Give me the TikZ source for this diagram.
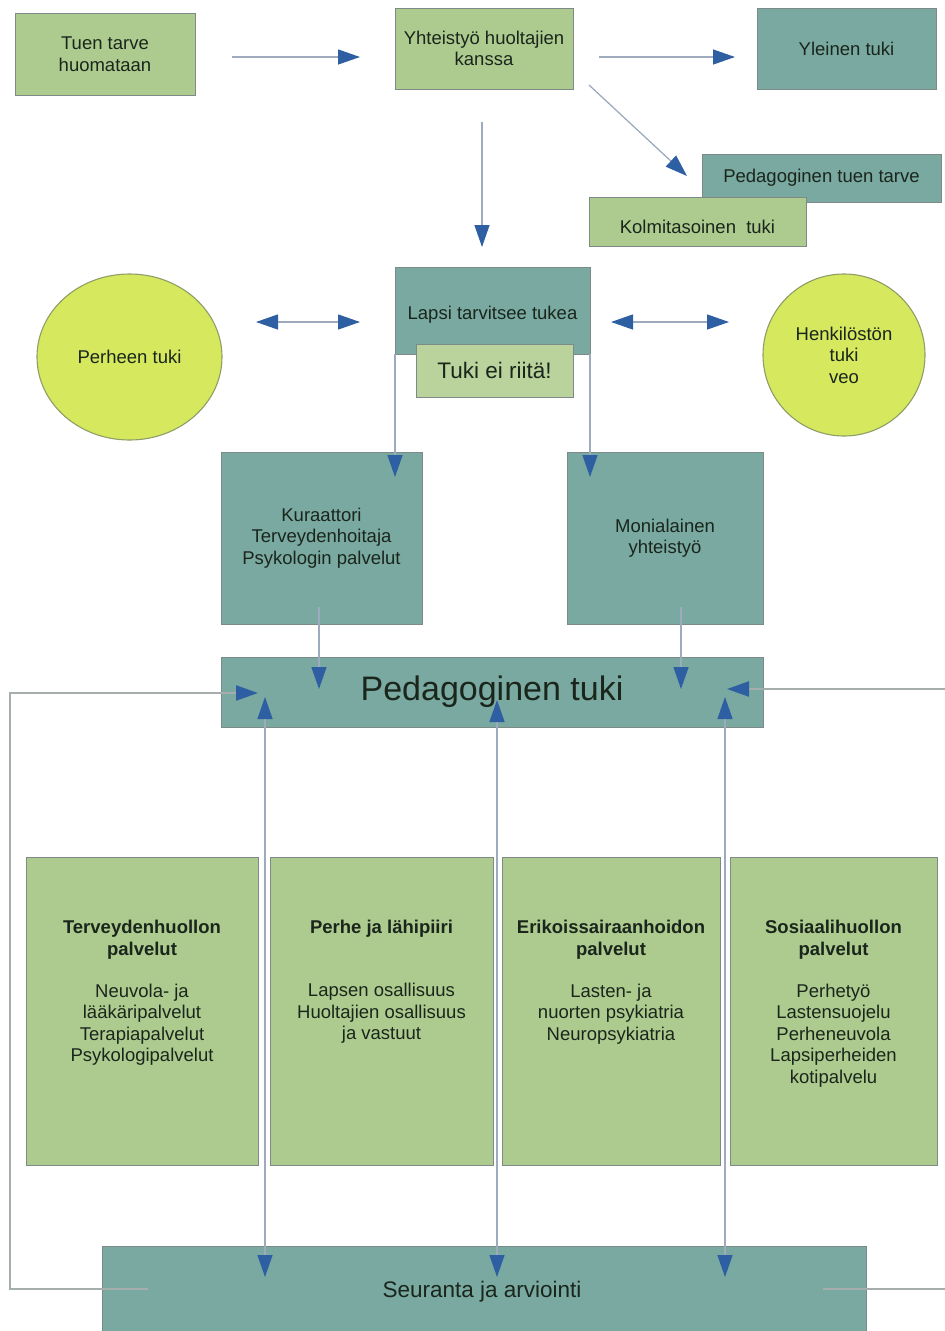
\documentclass[tikz,border=0pt]{standalone}
\usepackage{fontspec}
\setmainfont{Liberation Sans}
\usetikzlibrary{arrows.meta,shapes.geometric}
\definecolor{tealbox}{HTML}{79A9A0}
\definecolor{greenbox}{HTML}{AECB8F}
\definecolor{lightgreen}{HTML}{BAD39C}
\definecolor{yellowell}{HTML}{D5E85E}
\definecolor{ellborder}{HTML}{8E9E66}
\definecolor{boxborder}{HTML}{7E8A88}
\definecolor{txt}{HTML}{1A261C}
\definecolor{shaft}{HTML}{9EABBF}
\definecolor{tipblue}{HTML}{2D5FA2}
\definecolor{loopgray}{HTML}{A6ADAD}
\begin{document}
\begin{tikzpicture}[x=1pt,y=-1pt,
  basebox/.style={draw=boxborder, line width=0.9pt, inner sep=0pt, outer sep=0pt, align=center, text=txt,
    font=\fontsize{18.5}{21.5}\selectfont},
  gbox/.style={basebox, fill=greenbox},
  tbox/.style={basebox, fill=tealbox},
  ellnode/.style={ellipse, draw=ellborder, line width=1.1pt, fill=yellowell, inner sep=0pt,
    align=center, text=txt, font=\fontsize{18.5}{21.5}\selectfont},
  lbl/.style={inner sep=0pt, align=center, text=txt, font=\fontsize{18.5}{21.5}\selectfont},
  tipshape/.tip={Triangle[length=22pt,width=15pt,color=tipblue]},
  arr/.style={draw=shaft, line width=1.3pt, -tipshape},
  darr/.style={draw=shaft, line width=1.3pt, tipshape-tipshape},
  looparr/.style={draw=loopgray, line width=2.2pt, -tipshape}
]
\useasboundingbox (0,0) rectangle (945,1331);

% top row
\node[gbox, minimum width=180pt, minimum height=82pt] (tuen) at (105,54) {Tuen tarve\\huomataan};
\node[gbox, minimum width=178pt, minimum height=81pt] (yht) at (484,48.5) {Yhteistyö huoltajien\\kanssa};
\node[tbox, minimum width=179pt, minimum height=81pt] (yleinen) at (846.5,48.5) {Yleinen tuki};
\node[tbox, minimum width=239pt, minimum height=48pt] (pedtarve) at (821.5,178) {Pedagoginen tuen tarve};
\node[gbox, minimum width=217pt, minimum height=49pt, text height=24pt, text depth=0pt] (kolmi) at (697.5,221.5) {Kolmitasoinen\ \ tuki};

% middle row
\node[tbox, minimum width=195pt, minimum height=87pt, text height=21pt, text depth=4pt] (lapsi) at (492.5,310.5) {Lapsi tarvitsee tukea};
\node[basebox, fill=lightgreen, minimum width=157pt, minimum height=53pt, font=\fontsize{22.5}{26}\selectfont] (riita) at (494.5,370.5) {Tuki ei riitä!};
\node[ellnode, minimum width=185pt, minimum height=166pt] (perhe) at (129.5,357) {Perheen tuki};
\node[ellnode, minimum width=162pt, minimum height=162pt] (henk) at (844,355) {Henkilöstön\\tuki\\veo};

\node[tbox, minimum width=201pt, minimum height=172pt] (kur) at (321.5,538) {Kuraattori\\Terveydenhoitaja\\Psykologin palvelut};
\node[tbox, minimum width=196pt, minimum height=172pt] (moni) at (665,538) {Monialainen\\yhteistyö};

\node[tbox, minimum width=542pt, minimum height=70pt, font=\fontsize{34}{40}\selectfont] (pedtuki) at (492,692) {Pedagoginen tuki};

% bottom boxes
\node[gbox, minimum width=232pt, minimum height=308pt] (b1) at (142,1011) {};
\node[gbox, minimum width=223pt, minimum height=308pt] (b2) at (381.5,1011) {};
\node[gbox, minimum width=218pt, minimum height=308pt] (b3) at (611,1011) {};
\node[gbox, minimum width=207pt, minimum height=308pt] (b4) at (833.5,1011) {};

\node[lbl, anchor=north] (b1t) at (142,920) {\textbf{Terveydenhuollon}\\[0.5pt]\textbf{palvelut}\\[20pt]Neuvola- ja\\lääkäripalvelut\\Terapiapalvelut\\Psykologipalvelut};
\node[lbl, anchor=north] (b2t) at (381.5,920) {\textbf{Perhe ja lähipiiri}\\[41.5pt]Lapsen osallisuus\\Huoltajien osallisuus\\ja vastuut};
\node[lbl, anchor=north] (b3t) at (611,920) {\textbf{Erikoissairaanhoidon}\\[0.5pt]\textbf{palvelut}\\[20pt]Lasten- ja\\nuorten psykiatria\\Neuropsykiatria};
\node[lbl, anchor=north] (b4t) at (833.5,920) {\textbf{Sosiaalihuollon}\\[0.5pt]\textbf{palvelut}\\[20pt]Perhetyö\\Lastensuojelu\\Perheneuvola\\Lapsiperheiden\\kotipalvelu};

\node[tbox, minimum width=764pt, minimum height=88pt] (seur) at (484,1290) {};
\node[lbl, font=\fontsize{22.5}{26}\selectfont] (seurt) at (482,1292) {Seuranta ja arviointi};

% coordinates for connector ends
\coordinate (a1s) at (232,57);  \coordinate (a1e) at (360,57);
\coordinate (a2s) at (599,57);  \coordinate (a2e) at (735,57);
\coordinate (a3s) at (589,85);  \coordinate (a3e) at (687,176);
\coordinate (a4s) at (482,122); \coordinate (a4e) at (482,247);
\coordinate (a5s) at (256,322); \coordinate (a5e) at (360,322);
\coordinate (a6s) at (611,322); \coordinate (a6e) at (729,322);
\coordinate (a7e) at (394.5,477);
\coordinate (a9s) at (319,607);  \coordinate (a9e) at (319,689);
\coordinate (a10s) at (681,607); \coordinate (a10e) at (681,689);
\coordinate (v1t) at (265,697); \coordinate (v1b) at (265,1277);
\coordinate (v2t) at (497,700); \coordinate (v2b) at (497,1277);
\coordinate (v3t) at (725,697); \coordinate (v3b) at (725,1277);
\coordinate (lA) at (148,1289); \coordinate (lB) at (10,1289); \coordinate (lC) at (10,693); \coordinate (lD) at (258,693);
\coordinate (rA) at (823,1289); \coordinate (rB) at (955,1289); \coordinate (rC) at (955,689); \coordinate (rD) at (727,689);

% connectors
\draw[arr] (a1s) -- (a1e);
\draw[arr] (a2s) -- (a2e);
\draw[arr] (a3s) -- (a3e);
\draw[arr] (a4s) -- (a4e);
\draw[darr] (a5s) -- (a5e);
\draw[darr] (a6s) -- (a6e);
\draw[arr] (lapsi.south west) -- (lapsi.south west |- a7e);
\draw[arr] (lapsi.south east) -- (lapsi.south east |- a7e);
\draw[arr] (a9s) -- (a9e);
\draw[arr] (a10s) -- (a10e);
\draw[darr] (v1t) -- (v1b);
\draw[darr] (v2t) -- (v2b);
\draw[darr] (v3t) -- (v3b);
\draw[looparr] (lA) -- (lB) -- (lC) -- (lD);
\draw[looparr] (rA) -- (rB) -- (rC) -- (rD);
\end{tikzpicture}
\end{document}
